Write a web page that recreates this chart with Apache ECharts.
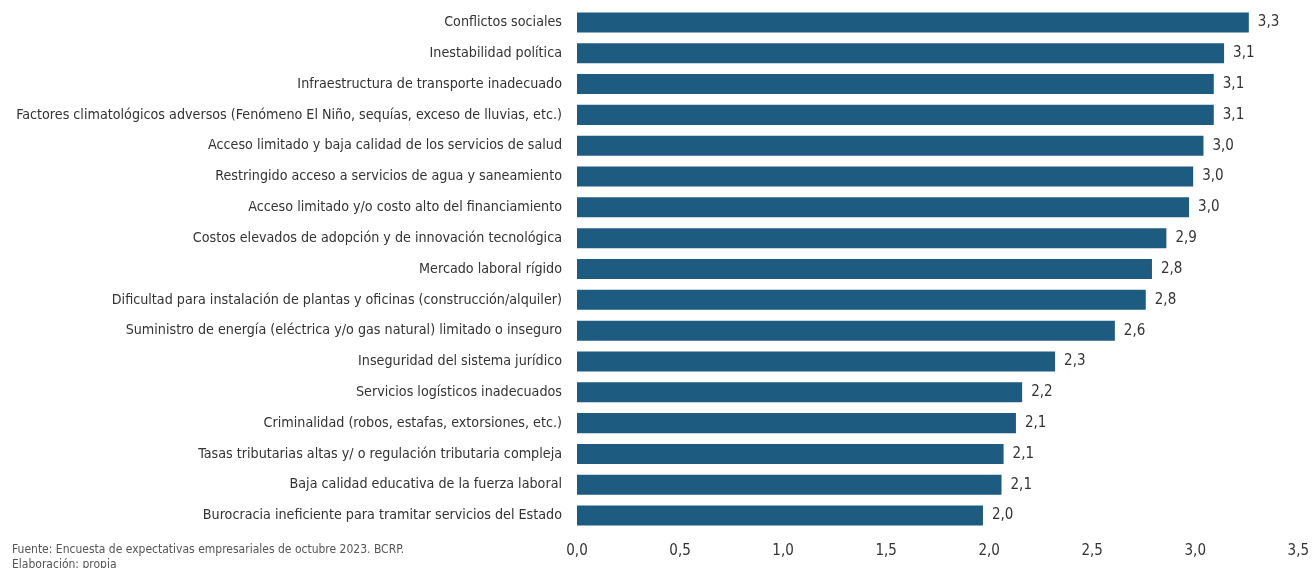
<!DOCTYPE html>
<html><head><meta charset="utf-8">
<script src="https://cdn.jsdelivr.net/npm/echarts@6/dist/echarts.min.js"></script>
<style>html,body{margin:0;padding:0;background:#fff}#c{width:1312px;height:568px}</style>
</head><body><div id="c"></div>
<script>
const categories = [
  "Conflictos sociales",
  "Inestabilidad política",
  "Infraestructura de transporte inadecuado",
  "Factores climatológicos adversos (Fenómeno El Niño, sequías, exceso de lluvias, etc.)",
  "Acceso limitado y baja calidad de los servicios de salud",
  "Restringido acceso a servicios de agua y saneamiento",
  "Acceso limitado y/o costo alto del financiamiento",
  "Costos elevados de adopción y de innovación tecnológica",
  "Mercado laboral rígido",
  "Dificultad para instalación de plantas y oficinas (construcción/alquiler)",
  "Suministro de energía (eléctrica y/o gas natural) limitado o inseguro",
  "Inseguridad del sistema jurídico",
  "Servicios logísticos inadecuados",
  "Criminalidad (robos, estafas, extorsiones, etc.)",
  "Tasas tributarias altas y/ o regulación tributaria compleja",
  "Baja calidad educativa de la fuerza laboral",
  "Burocracia ineficiente para tramitar servicios del Estado"
];
const values = [3.26, 3.14, 3.09, 3.09, 3.04, 2.99, 2.97, 2.86, 2.79, 2.76, 2.61, 2.32, 2.16, 2.13, 2.07, 2.06, 1.97];
const footerSource = "Fuente: Encuesta de expectativas empresariales de octubre 2023. BCRP.";
const footerCredit = "Elaboración: propia";

const fmt = v => (Math.round(v * 10) / 10).toFixed(1).replace('.', ',');
const FONT = '"Liberation Sans Narrow", "DejaVu Sans Condensed", sans-serif';

const chart = echarts.init(document.getElementById('c'));
chart.setOption({
  animation: false,
  grid: {left: 577, right: 11, top: 7, bottom: 37, containLabel: false},
  xAxis: {
    type: 'value', min: 0, max: 3.5, interval: 0.5,
    axisLine: {show: false}, axisTick: {show: false}, splitLine: {show: false},
    axisLabel: {formatter: v => fmt(v), color: '#333', fontSize: 15, fontFamily: FONT, margin: 13}
  },
  yAxis: {
    type: 'category', data: categories, inverse: true,
    axisLine: {show: false}, axisTick: {show: false},
    axisLabel: {color: '#333', fontSize: 14.2, fontFamily: FONT, margin: 15}
  },
  series: [{
    type: 'bar', data: values, barCategoryGap: '35%',
    itemStyle: {color: '#1d5b80'},
    label: {show: true, position: 'right', distance: 9, formatter: p => fmt(p.value),
      color: '#333', fontSize: 15, fontFamily: FONT}
  }],
  graphic: [
    {type: 'text', left: 12, top: 544, style: {text: footerSource, fill: '#555', fontSize: 12, fontFamily: FONT}},
    {type: 'text', left: 12, top: 559, style: {text: footerCredit, fill: '#555', fontSize: 12, fontFamily: FONT}}
  ]
});
</script></body></html>
